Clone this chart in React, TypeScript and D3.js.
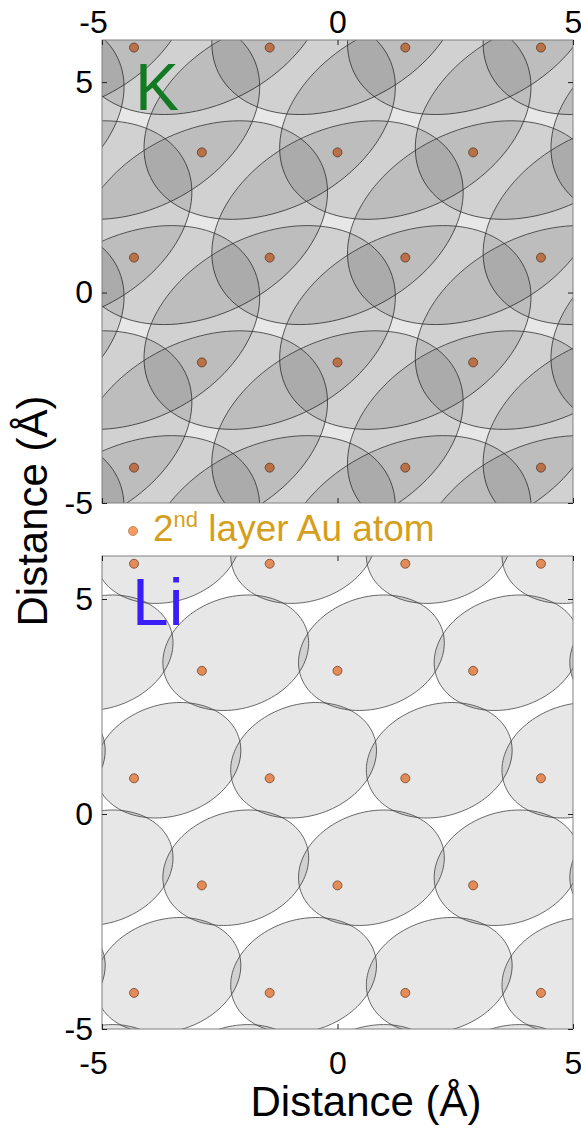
import { useEffect, useRef } from "react";
import { select, scaleLinear, line, curveLinearClosed, range, axisTop, axisBottom, axisLeft, axisRight } from "d3";

// 2nd layer Au atoms (Å): row heights, columns alternate between the two sets
const auRowY = [5.82, 3.33, 0.83, -1.66, -4.16];
const auColsOdd = [-4.32, -1.44, 1.44, 4.32];
const auColsEven = [-2.88, 0, 2.88];

// K footprints, one per fcc hollow
const kRowY = [6.65, 4.16, 1.66, -0.83, -3.33, -5.82];
const kColsA = [-5.76, -2.88, 0, 2.88, 5.76];
const kColsB = [-7.2, -4.32, -1.44, 1.44, 4.32, 7.2];
const kShape = { a: 2.92, b: 2.11, angle: 36 };

// Li footprints, one per bridge site
const liRowY = [6.24, 3.75, 1.25, -1.25, -3.75, -6.24];
const liColsOdd = [-6.48, -3.6, -0.72, 2.16, 5.04];
const liColsEven = [-5.04, -2.16, 0.72, 3.6, 6.48];
const liShape = { a: 1.6, b: 1.28, angle: 25 };

const ticks = [-5, 0, 5];
const FONT = "'Liberation Sans', Arial, sans-serif";
const DOT = "#fd9a62";

const x = scaleLinear().domain([-5, 5]).range([102, 573]);
const yK = scaleLinear().domain([-5, 6]).range([503, 40]);
const yLi = scaleLinear().domain([-5, 6]).range([1029, 556]);

const sites = (rows, colsA, colsB) =>
  rows.flatMap((y, i) => (i % 2 === 0 ? colsA : colsB).map((xv) => ({ x: xv, y })));

const outline = (c, s) => {
  const t = (s.angle * Math.PI) / 180;
  return range(0, 360, 3).map((d) => {
    const r = (d * Math.PI) / 180;
    const u = s.a * Math.cos(r);
    const v = s.b * Math.sin(r);
    return [c.x + u * Math.cos(t) - v * Math.sin(t), c.y + u * Math.sin(t) + v * Math.cos(t)];
  });
};

const fmt = (d) => (d < 0 ? "-" : "") + Math.abs(d);

function Panel({ yScale, shapes, shape, id, stroke }) {
  const path = line()
    .x((p) => x(p[0]))
    .y((p) => yScale(p[1]))
    .curve(curveLinearClosed);
  const [y0, y1] = yScale.range();
  const dots = sites(auRowY, auColsOdd, auColsEven);
  return (
    <g>
      <defs>
        <clipPath id={id}>
          <rect x={102} y={y1} width={471} height={y0 - y1} />
        </clipPath>
      </defs>
      <rect x={102} y={y1} width={471} height={y0 - y1} fill="#fff" />
      <g clipPath={`url(#${id})`}>
        {/* the atoms sit under the translucent footprints */}
        {dots.map((d, i) => (
          <circle key={i} cx={x(d.x)} cy={yScale(d.y)} r={4.5} fill={DOT} stroke="#7a4a30" strokeWidth={0.8} />
        ))}
        {shapes.map((c, i) => (
          <path key={i} d={path(outline(c, shape))} fill="#000" fillOpacity={0.095}
            stroke={stroke} strokeOpacity={0.75} strokeWidth={1} />
        ))}
      </g>
      <rect x={102} y={y1} width={471} height={y0 - y1} fill="none" stroke="#808080" strokeWidth={1} />
    </g>
  );
}

export default function App() {
  const ref = useRef(null);

  useEffect(() => {
    const svg = select(ref.current);
    const style = (g) => {
      g.select(".domain").remove();
      g.attr("font-size", 32).attr("font-family", FONT);
      g.selectAll(".tick line").attr("stroke", "#222");
    };
    // top panel
    svg.select(".k-top")
      .call(axisTop(x).tickValues(ticks).tickSizeInner(-5).tickSizeOuter(0).tickPadding(7).tickFormat(fmt))
      .call(style)
      .selectAll(".tick text").attr("dx", (d) => (d < 0 ? -9 : 0));
    svg.select(".k-bottom").call(axisBottom(x).tickValues(ticks).tickSizeInner(-5).tickSizeOuter(0).tickFormat(() => "")).call(style);
    svg.select(".k-left").call(axisLeft(yK).tickValues(ticks).tickSizeInner(-5).tickSizeOuter(0).tickPadding(9).tickFormat(fmt)).call(style);
    svg.select(".k-right").call(axisRight(yK).tickValues(ticks).tickSizeInner(-5).tickSizeOuter(0).tickFormat(() => "")).call(style);
    // bottom panel
    svg.select(".li-top").call(axisTop(x).tickValues(ticks).tickSizeInner(-5).tickSizeOuter(0).tickFormat(() => "")).call(style);
    svg.select(".li-bottom")
      .call(axisBottom(x).tickValues(ticks).tickSizeInner(-5).tickSizeOuter(0).tickPadding(22).tickFormat(fmt))
      .call(style)
      .selectAll(".tick text").attr("dx", (d) => (d < 0 ? -9 : 0));
    svg.select(".li-left").call(axisLeft(yLi).tickValues(ticks).tickSizeInner(-5).tickSizeOuter(0).tickPadding(9).tickFormat(fmt)).call(style);
    svg.select(".li-right").call(axisRight(yLi).tickValues(ticks).tickSizeInner(-5).tickSizeOuter(0).tickFormat(() => "")).call(style);
  }, []);

  return (
    <svg ref={ref} width={581} height={1127} style={{ position: "absolute", left: 0, top: 0, background: "#fff" }}>
      <Panel yScale={yK} shapes={sites(kRowY, kColsA, kColsB)} shape={kShape} id="clip-k" stroke="#2a2a2a" />
      <Panel yScale={yLi} shapes={sites(liRowY, liColsOdd, liColsEven)} shape={liShape} id="clip-li" stroke="#3a3a3a" />

      <g className="k-top" transform="translate(0,40)" />
      <g className="k-bottom" transform="translate(0,503)" />
      <g className="k-left" transform="translate(102,0)" />
      <g className="k-right" transform="translate(573,0)" />
      <g className="li-top" transform="translate(0,556)" />
      <g className="li-bottom" transform="translate(0,1029)" />
      <g className="li-left" transform="translate(102,0)" />
      <g className="li-right" transform="translate(573,0)" />

      <text x={135} y={110} fontFamily={FONT} fontSize={66} fill="#137a23">K</text>
      <text x={132} y={625} fontFamily={FONT} fontSize={66} fill="#3a1ef5">Li</text>

      <circle cx={133} cy={531} r={4.5} fill={DOT} stroke="#b07a58" strokeWidth={0.8} />
      <text x={153} y={541} fontFamily={FONT} fontSize={37} fill="#d59f1d">
        2<tspan fontSize={22} dy={-14}>nd</tspan><tspan dy={14}> layer Au atom</tspan>
      </text>

      <text transform="translate(47,511) rotate(-90)" textAnchor="middle" fontFamily={FONT} fontSize={42}>
        Distance (Å)
      </text>
      <text x={366} y={1116} textAnchor="middle" fontFamily={FONT} fontSize={42}>
        Distance (Å)
      </text>
    </svg>
  );
}
